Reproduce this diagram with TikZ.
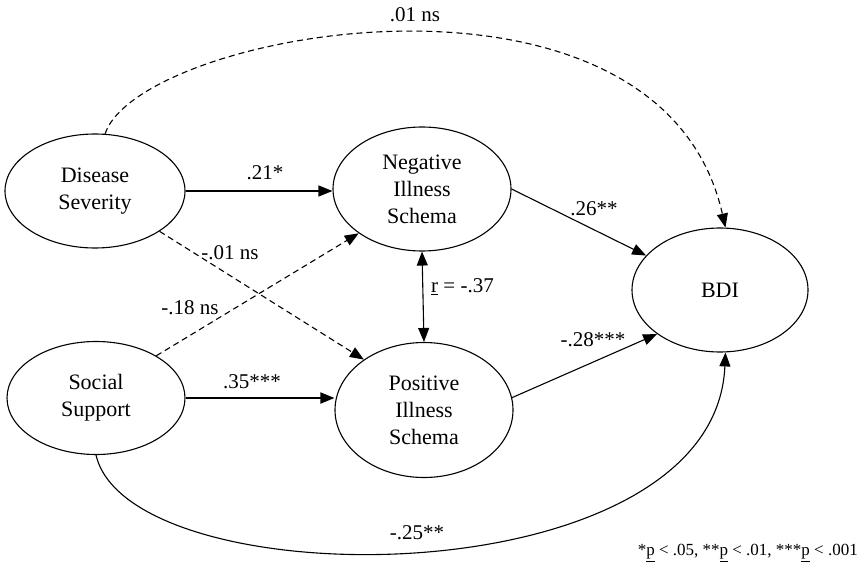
\documentclass[tikz,border=0pt]{standalone}
\usepackage{fontspec}
\setmainfont{Liberation Serif}
\usetikzlibrary{shapes.geometric,arrows.meta}

\begin{document}
\begin{tikzpicture}[x=1pt, y=-1pt,
  latent/.style={ellipse, draw, line width=1.1pt, inner sep=0pt, align=center,
    font=\fontsize{22}{27}\selectfont},
  path/.style={line width=1.1pt, -{Triangle[length=14pt,width=11pt]}},
  nspath/.style={path, dash pattern=on 6pt off 4pt},
  coef/.style={inner sep=1pt, font=\fontsize{21}{25}\selectfont}]
  \useasboundingbox (0,0) rectangle (861,572);

  % Variables
  \node[latent, minimum width=180pt, minimum height=114pt] (dis) at (95,191) {Disease\\Severity};
  \node[latent, minimum width=178pt, minimum height=113pt] (soc) at (96,398) {Social\\Support};
  \node[latent, minimum width=178pt, minimum height=124pt] (neg) at (422,189) {Negative\\Illness\\Schema};
  \node[latent, minimum width=178pt, minimum height=135pt] (pos) at (424,410) {Positive\\Illness\\Schema};
  \node[latent, minimum width=176pt, minimum height=124pt] (bdi) at (720,290) {BDI};

  % Chemins directs
  \draw[path] (dis.east) -- (dis.east -| neg.west);
  \draw[path, line width=1.8pt] (soc.east) -- (soc.east -| pos.west);
  \draw[path] (neg.east) -- (bdi.155);
  \draw[path] (pos.8) -- (bdi.215);

  % Chemins non significatifs
  \draw[nspath] (dis.-32) -- (pos.140);
  \draw[nspath] (soc.35) -- (neg.215);
  \draw[nspath] (dis.80) .. controls (140,30) and (660,-63) .. (bdi.85);

  % Chemin courbe du bas
  \draw[path] (soc.south) .. controls (130,600) and (715,600) .. (bdi.-85);

  % Correlation
  \draw[line width=1.1pt, {Triangle[length=14pt,width=11pt]}-{Triangle[length=14pt,width=11pt]}] (neg.south) -- (pos.north);

  % Coefficients
  \node[coef] (c21) at (265,173) {.21*};
  \node[coef] (c01) at (230,253) {-.01 ns};
  \node[coef] (c18) at (190,308) {-.18 ns};
  \node[coef] (c35) at (252,382) {.35***};
  \node[coef, anchor=west] (cr) at (430,287) {\underline{r} = -.37};
  \node[coef] (c26) at (594,209) {.26**};
  \node[coef] (c28) at (593,340) {-.28***};
  \node[coef] (c01top) at (415,15) {.01 ns};
  \node[coef] (c25) at (417,533) {-.25**};

  % Note
  \node[anchor=east, inner sep=0pt, font=\fontsize{17}{20}\selectfont] (note) at (858,553)
    {*\underline{p} < .05, **\underline{p} < .01, ***\underline{p} < .001};
\end{tikzpicture}
\end{document}
